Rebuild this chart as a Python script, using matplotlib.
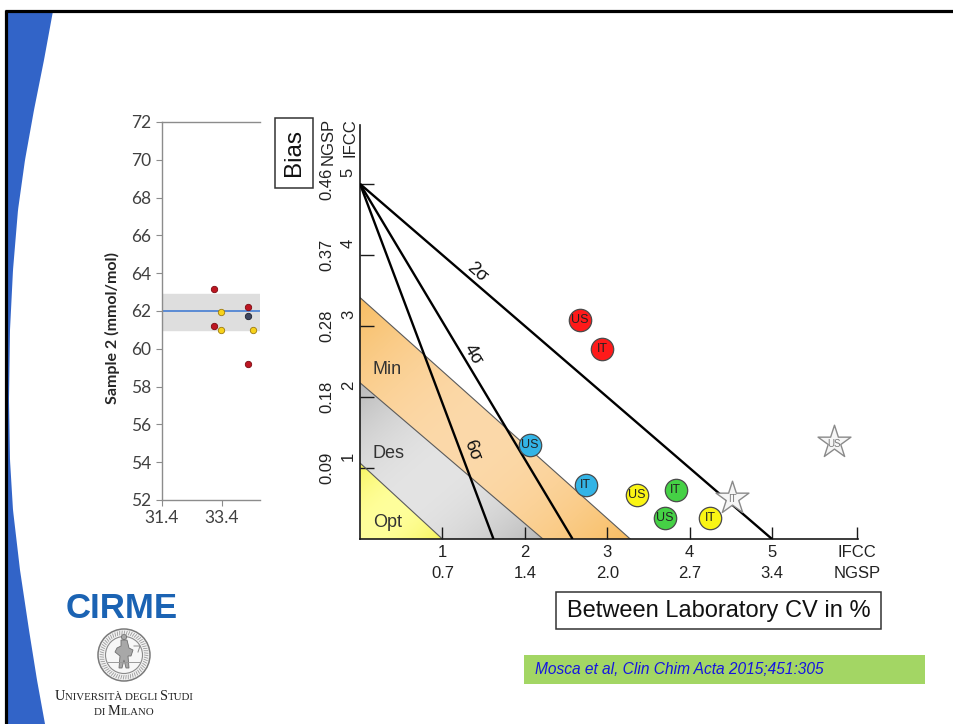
import numpy as np
import matplotlib
matplotlib.use("Agg")
import matplotlib.pyplot as plt
from matplotlib.patches import Polygon, Rectangle, Circle
from matplotlib.offsetbox import TextArea, HPacker, VPacker, AnnotationBbox
from matplotlib.transforms import offset_copy

# ---------------- left panel: sample 2 results ----------------
sample_x = [33.13, 33.13, 33.36, 33.36, 34.26, 34.26, 34.26, 34.45]
sample_y = [63.18, 61.23, 61.97, 61.0, 62.21, 61.76, 59.18, 61.0]
sample_kind = ["red", "red", "yellow", "yellow", "red", "dark", "red", "yellow"]
target_value = 62.0
band_low, band_high = 61.0, 62.9
left_yticks = [52, 54, 56, 58, 60, 62, 64, 66, 68, 70, 72]
left_xticks = [31.4, 33.4]
left_xticklabels = ["31.4", "33.4"]

# ---------------- right panel: sigma chart ----------------
cv_ticks = [1, 2, 3, 4, 5]
cv_ngsp = ["0.7", "1.4", "2.0", "2.7", "3.4"]
bias_ticks = [1, 2, 3, 4, 5]
bias_ngsp = ["0.09", "0.18", "0.28", "0.37", "0.46"]
tea = 5.0
sigma_names = ["2σ", "4σ", "6σ"]
sigma_cv_end = [5.0, 2.58, 1.62]
zone_names = ["Opt", "Des", "Min"]
zone_bias_end = [1.07, 2.2, 3.4]
zone_cv_end = [1.0, 2.22, 3.28]

lab_names = ["US", "IT", "US", "IT", "US", "IT", "US", "IT"]
lab_group = ["red", "red", "cyan", "cyan", "yellow", "yellow", "green", "green"]
lab_cv = [2.67, 2.94, 2.06, 2.74, 3.36, 4.25, 3.70, 3.83]
lab_bias = [3.08, 2.68, 1.32, 0.76, 0.62, 0.29, 0.29, 0.69]
star_names = ["IT", "US"]
star_cv = [4.52, 5.75]
star_bias = [0.58, 1.36]

W, H = 954, 724
fig = plt.figure(figsize=(W / 100, H / 100), dpi=100)
fig.patch.set_facecolor("white")


def px_axes(left, top, right, bottom, **kw):
    return fig.add_axes([left / W, 1 - bottom / H, (right - left) / W, (bottom - top) / H], **kw)


# ---------- slide background (pixel coordinates) ----------
bg = px_axes(0, 0, W, H, zorder=0)
bg.set_xlim(0, W)
bg.set_ylim(H, 0)
bg.axis("off")

edge_y = np.array([11, 60, 110, 160, 210, 270, 330, 400, 460, 510, 570, 630, 680, 724])
edge_x = np.array([53, 44, 34, 25, 18, 13, 10, 9, 10, 13, 20, 29, 37, 45])
ys = np.linspace(11, 724, 200)
xs = np.interp(ys, edge_y, edge_x)
swoosh = np.vstack([np.column_stack([xs, ys]), [[6, 724], [6, 11]]])
bg.add_patch(Polygon(swoosh, closed=True, facecolor="#3264C8", edgecolor="none"))
bg.plot([5, W], [11, 11], color="black", lw=2.3, solid_capstyle="butt")
bg.plot([6, 6], [10, H], color="black", lw=2.3, solid_capstyle="butt")

# CIRME logo block
bg.text(122, 618, "CIRME", fontsize=25, fontweight="bold", color="#1B63B3",
        family="Liberation Sans", ha="center", va="baseline")
seal_c = (124, 655)
bg.add_patch(Circle(seal_c, 26, facecolor="#F2F2F2", edgecolor="#7A7A7A", lw=1.1))
bg.add_patch(Circle(seal_c, 18.5, facecolor="#F7F7F7", edgecolor="#8A8A8A", lw=0.8))
ang = np.linspace(0, 2 * np.pi, 60, endpoint=False)
for a in ang:
    r0, r1 = 20.5, 24.0
    bg.plot([seal_c[0] + r0 * np.cos(a), seal_c[0] + r1 * np.cos(a + 0.03)],
            [seal_c[1] + r0 * np.sin(a), seal_c[1] + r1 * np.sin(a + 0.03)],
            color="#9A9A9A", lw=0.6)
figure_shape = np.array([[121, 640], [127, 640], [129, 648], [133, 650], [131, 656], [128, 656],
                         [129, 668], [126, 668], [124, 660], [122, 668], [119, 668], [120, 656],
                         [115, 652], [117, 648], [121, 646]])
bg.add_patch(Polygon(figure_shape, closed=True, facecolor="#A8A8A8", edgecolor="#6E6E6E", lw=0.6))
bg.add_patch(Circle((124, 637), 2.6, facecolor="#A8A8A8", edgecolor="#6E6E6E", lw=0.6))
bg.plot([108, 140], [662, 662], color="#9A9A9A", lw=0.7)
bg.plot([134, 140, 138], [646, 646, 652], color="#8A8A8A", lw=0.7)


def small_caps(parts, big=10.4, small=7.8):
    boxes = []
    for txt, is_big in parts:
        boxes.append(TextArea(txt, textprops=dict(fontsize=big if is_big else small,
                                                  family="Liberation Serif", color="#222222")))
    return HPacker(children=boxes, align="baseline", pad=0, sep=0)


line1 = small_caps([("U", True), ("NIVERSITÀ DEGLI ", False), ("S", True), ("TUDI", False)])
line2 = small_caps([("DI ", False), ("M", True), ("ILANO", False)])
uni = VPacker(children=[line1, line2], align="center", pad=0, sep=1)
bg.add_artist(AnnotationBbox(uni, (124, 704), xycoords="data", frameon=False, box_alignment=(0.5, 0.5)))

# citation
bg.add_patch(Rectangle((524, 655), 401, 29, facecolor="#A3D664", edgecolor="none"))
bg.text(535, 670, "Mosca et al, Clin Chim Acta 2015;451:305", fontsize=11.2, style="italic",
        color="#1515E0", family="Liberation Sans", ha="left", va="center")

# axis caption boxes of the sigma chart
bg.add_patch(Rectangle((275, 118), 38, 70, facecolor="white", edgecolor="#333333", lw=1.1))
bg.text(294.5, 153, "Bias", rotation=90, fontsize=17.5, family="Liberation Sans",
        color="#111111", ha="center", va="center")
bg.add_patch(Rectangle((556, 592), 325, 37, facecolor="white", edgecolor="#333333", lw=1.1))
bg.text(718.5, 611, "Between Laboratory CV in %", fontsize=17, family="Liberation Sans",
        color="#111111", ha="center", va="center")

# ---------- left panel ----------
axl = px_axes(162, 122, 260, 500, zorder=2)
axl.set_xlim(31.4, 34.67)
axl.set_ylim(52, 72)
axl.axhspan(band_low, band_high, color="#DEDEDE", zorder=1)
axl.axhline(target_value, color="#5B8BD4", lw=1.4, zorder=2)
dot_face = {"red": "#BE1622", "yellow": "#F7D21A", "dark": "#3C4660"}
dot_edge = {"red": "#7A0A10", "yellow": "#9C7A10", "dark": "#1E2230"}
for x, y, k in zip(sample_x, sample_y, sample_kind):
    axl.plot(x, y, "o", ms=4.6, mfc=dot_face[k], mec=dot_edge[k], mew=0.6, zorder=3)
axl.spines["right"].set_visible(False)
for side in ("left", "top", "bottom"):
    axl.spines[side].set_color("#8C8C8C")
    axl.spines[side].set_linewidth(1.0)
axl.set_yticks(left_yticks)
axl.set_xticks(left_xticks)
axl.set_xticklabels(left_xticklabels)
axl.tick_params(axis="both", colors="#8C8C8C", length=4, width=0.8, labelsize=12.5,
                labelcolor="#404040")
for lab in axl.get_xticklabels() + axl.get_yticklabels():
    lab.set_family("Lato")
axl.set_ylabel("Sample 2 (mmol/mol)", fontsize=11.5, fontweight="bold", family="Lato",
               color="#262626")
axl.yaxis.set_label_coords(-0.43, 0.455)

# ---------- sigma chart ----------
ax = px_axes(360, 125, 858.5, 539, zorder=3)
ax.set_facecolor("none")
XMAX, YMAX = 6.05, 5.83
ax.set_xlim(0, XMAX)
ax.set_ylim(0, YMAX)

zone_edge = {"Opt": "#F6F35A", "Des": "#B9B9B9", "Min": "#F8BD62"}
zone_mid = {"Opt": "#FFFF9C", "Des": "#E4E4E4", "Min": "#FCD9AA"}
gx, gy = np.meshgrid(np.linspace(0, 3.6, 360), np.linspace(0, 3.6, 360))
prev_b, prev_a = 0.0, 0.0
for name, b, a in zip(zone_names, zone_bias_end, zone_cv_end):
    poly = Polygon([(0, prev_b), (0, b), (a, 0), (prev_a, 0)], closed=True,
                   facecolor="none", edgecolor="none", transform=ax.transData)
    ax.add_patch(poly)
    t = np.clip(gx / a - gy / b, -1, 1)
    w = (1 - t ** 2)[..., None]
    c0 = np.array(matplotlib.colors.to_rgb(zone_edge[name]))
    c1 = np.array(matplotlib.colors.to_rgb(zone_mid[name]))
    img = c0 + (c1 - c0) * w
    im = ax.imshow(img, extent=[0, 3.6, 0, 3.6], origin="lower", aspect="auto",
                   zorder=1, interpolation="bilinear")
    im.set_clip_path(poly)
    ax.plot([0, a], [b, 0], color="#5A5A5A", lw=0.8, zorder=2)
    prev_b, prev_a = b, a
ax.set_xlim(0, XMAX)
ax.set_ylim(0, YMAX)
ax.set_aspect("auto")

zone_label_y = {"Opt": 0.23, "Des": 1.21, "Min": 2.39}
for name in zone_names:
    ax.text(0.155, zone_label_y[name], name, fontsize=13, family="Liberation Sans",
            color="#333333", ha="left", va="center", zorder=4)

# sigma lines
for name, cv in zip(sigma_names, sigma_cv_end):
    ax.plot([0, cv], [tea, 0], color="black", lw=1.7, zorder=3, solid_capstyle="butt")

sig_label_pos = {"2σ": (1.42, 3.76), "4σ": (1.37, 2.60), "6σ": (1.36, 1.25)}
for name, cv in zip(sigma_names, sigma_cv_end):
    dx_px = cv * (498.5 / XMAX)
    dy_px = tea * (414 / YMAX)
    rot = -np.degrees(np.arctan2(dy_px, dx_px))
    x, y = sig_label_pos[name]
    ax.text(x, y, name, rotation=rot, rotation_mode="anchor", fontsize=13,
            family="Liberation Sans", color="#111111", ha="center", va="center", zorder=4)

# laboratory results
group_color = {"red": "#FF1A1A", "cyan": "#33B4E6", "yellow": "#FAF514", "green": "#45D145"}
for nm, g, x, y in zip(lab_names, lab_group, lab_cv, lab_bias):
    ax.scatter([x], [y], s=260, c=group_color[g], edgecolors="#4A4A4A", linewidths=0.9, zorder=5)
    ax.text(x, y, nm, fontsize=9, family="Liberation Sans", color="#222222",
            ha="center", va="center", zorder=6)
for nm, x, y in zip(star_names, star_cv, star_bias):
    ax.scatter([x], [y], s=620, marker="*", c="#F6F6F6", edgecolors="#8A8A8A",
               linewidths=1.0, zorder=5)
    ax.text(x, y - 0.02, nm, fontsize=7, family="Liberation Sans", color="#7A7A7A",
            ha="center", va="center", zorder=6)

# axes
for side in ("top", "right"):
    ax.spines[side].set_visible(False)
for side in ("left", "bottom"):
    ax.spines[side].set_color("#1A1A1A")
    ax.spines[side].set_linewidth(1.2)
ax.set_xticks(cv_ticks + [6.03])
ax.set_xticklabels([f"{c}\n{n}" for c, n in zip(cv_ticks, cv_ngsp)] + ["IFCC\nNGSP"])
ax.set_yticks(bias_ticks)
ax.set_yticklabels([f"{n}\n{b}" for b, n in zip(bias_ticks, bias_ngsp)])
ax.tick_params(axis="x", direction="in", length=9, width=1.0, colors="#1A1A1A", pad=4,
               labelsize=12, labelcolor="#222222")
ax.tick_params(axis="y", direction="in", length=10, width=1.0, colors="#1A1A1A", pad=3,
               labelsize=12, labelcolor="#222222")
for lab in ax.get_xticklabels():
    lab.set_family("Liberation Sans")
    lab.set_linespacing(1.55)
for lab in ax.get_yticklabels():
    lab.set_family("Liberation Sans")
    lab.set_rotation(90)
    lab.set_linespacing(1.5)
    lab.set_va("center")
    lab.set_ha("right")
ax.text(0, 5.60, "NGSP\nIFCC", rotation=90, fontsize=12, family="Liberation Sans",
        color="#222222", ha="right", va="center", linespacing=1.5,
        transform=offset_copy(ax.transData, fig=fig, x=-3, y=0, units="dots"))

fig.savefig("out.png", dpi=100, facecolor="white")
